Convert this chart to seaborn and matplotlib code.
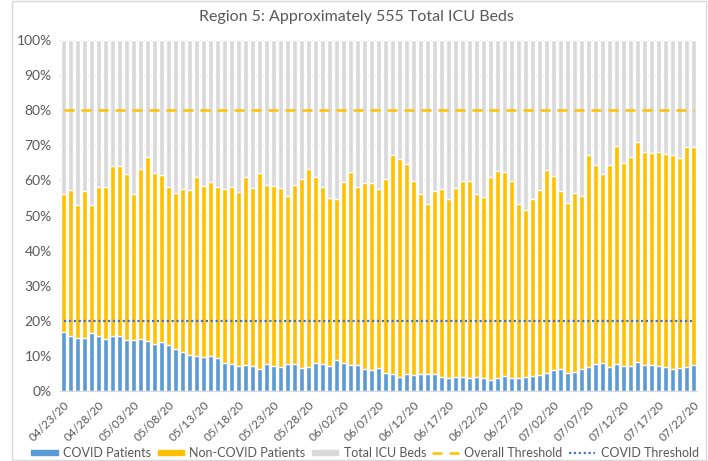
import numpy as np
import pandas as pd
import matplotlib
matplotlib.use("Agg")
import matplotlib.pyplot as plt
from matplotlib.patches import Patch, Rectangle
from matplotlib.lines import Line2D
import seaborn as sns

""" Data (percent of ~555 ICU beds) """
dates = pd.date_range("2020-04-23", "2020-07-22", freq="D").strftime("%m/%d/%y").tolist()

covid_pct = [16.9, 15.8, 15.2, 15.2, 16.5, 15.8, 14.8, 15.6, 15.6, 14.5,
             14.5, 14.8, 14.2, 13.5, 13.9, 13.1, 12.0, 11.2, 10.2, 10.1,
             9.6, 9.9, 9.4, 8.0, 7.7, 7.1, 7.5, 7.2, 6.2, 7.6,
             7.1, 6.8, 7.7, 7.8, 6.6, 6.8, 8.0, 7.6, 7.2, 8.9,
             8.1, 7.4, 7.4, 6.3, 6.1, 6.5, 5.1, 4.8, 4.1, 4.9,
             4.7, 4.9, 4.9, 4.9, 3.9, 3.8, 4.0, 4.0, 3.6, 4.0,
             3.8, 3.2, 3.8, 4.3, 3.6, 3.8, 4.0, 4.2, 4.7, 5.2,
             5.9, 6.3, 5.0, 5.5, 6.2, 6.8, 7.8, 8.0, 6.8, 7.8,
             7.2, 7.2, 8.2, 7.3, 7.4, 7.0, 6.8, 6.4, 6.6, 6.7,
             7.5]

occupied_pct = [56.1, 57.3, 52.9, 56.9, 53.1, 58.1, 58.1, 64.1, 64.1, 61.8,
                56.1, 63.2, 66.6, 62.2, 61.4, 58.2, 56.3, 57.5, 57.3, 60.9,
                58.3, 59.6, 58.2, 57.5, 58.1, 56.7, 60.9, 57.9, 62.2, 58.6,
                58.4, 57.9, 55.5, 58.6, 60.3, 63.2, 60.9, 58.1, 55.0, 54.7,
                59.5, 62.3, 58.2, 59.3, 59.3, 57.5, 60.5, 67.2, 66.0, 64.7,
                59.8, 56.1, 53.4, 57.0, 57.6, 54.7, 57.8, 59.9, 59.8, 56.1,
                55.2, 61.1, 62.8, 62.5, 59.8, 53.4, 51.6, 54.7, 57.3, 63.0,
                61.3, 57.0, 53.6, 56.3, 55.5, 67.2, 64.3, 61.9, 64.4, 69.9,
                64.9, 66.7, 70.9, 68.2, 67.8, 68.2, 67.6, 67.2, 66.5, 69.5,
                69.4]

overall_threshold = 80
covid_threshold = 20

df = pd.DataFrame({"date": dates, "covid": covid_pct, "occupied": occupied_pct})
df["total"] = 100
df["noncovid"] = df["occupied"] - df["covid"]

BLUE = "#5B9BD5"
GOLD = "#FFC000"
GREY = "#D9D9D9"
TEXT = "#595959"
DOTS = "#4472C4"
DASH = (0, (4, 2.8))
DOTTED = (0, (1, 1.2))

sns.set_style("white")
plt.rcParams["font.family"] = ["Lato", "DejaVu Sans"]

fig = plt.figure(figsize=(7.08, 4.61), dpi=100)
ax = fig.add_axes([60 / 708, 1 - 391 / 461, 637 / 708, 351 / 461])

# layered bars give the stacked look
sns.barplot(data=df, x="date", y="total", color=GREY, width=0.58,
            saturation=1, ax=ax, zorder=2)
sns.barplot(data=df, x="date", y="occupied", color=GOLD, width=0.58,
            saturation=1, ax=ax, zorder=3)
sns.barplot(data=df, x="date", y="covid", color=BLUE, width=0.58,
            saturation=1, ax=ax, zorder=4)

xs = np.arange(len(dates))
ax.plot(xs, [overall_threshold] * len(xs), color=GOLD, lw=1.8, ls=DASH, zorder=5)
ax.plot(xs, [covid_threshold] * len(xs), color=DOTS, lw=1.6, ls=DOTTED, zorder=5)

ax.set_xlim(-0.5, len(dates) - 0.5)
ax.set_ylim(0, 100)
ax.set_yticks(range(0, 101, 10))
ax.set_yticklabels([f"{v}%" for v in range(0, 101, 10)], color=TEXT, fontsize=10)
ax.yaxis.grid(True, color=GREY, lw=1, zorder=0)
ax.set_axisbelow(True)

ax.set_xticks(xs[::5])
ax.set_xticklabels(dates[::5], rotation=45, ha="right", rotation_mode="anchor",
                   color=TEXT, fontsize=8.5)
ax.tick_params(axis="y", length=0, pad=6)
ax.tick_params(axis="x", length=0, pad=6)
ax.set_xlabel("")
ax.set_ylabel("")
for side in ["top", "right", "left"]:
    ax.spines[side].set_visible(False)
ax.spines["bottom"].set_color(GREY)

fig.text(356 / 708, 1 - 17 / 461, "Region 5: Approximately 555 Total ICU Beds",
         ha="center", va="center", fontsize=11.5, color=TEXT)

handles = [
    Patch(color=BLUE, label="COVID Patients"),
    Patch(color=GOLD, label="Non-COVID Patients"),
    Patch(color=GREY, label="Total ICU Beds"),
    Line2D([], [], color=GOLD, lw=1.8, ls=DASH, label="Overall Threshold"),
    Line2D([], [], color=DOTS, lw=1.6, ls=DOTTED, label="COVID Threshold"),
]
leg = fig.legend(handles=handles, loc="center", bbox_to_anchor=(365 / 708, 1 - 453 / 461),
                 ncol=5, frameon=False, fontsize=9, handlelength=2.1,
                 handleheight=0.35, columnspacing=0.5, handletextpad=0.45,
                 borderpad=0.1, borderaxespad=0)
for t in leg.get_texts():
    t.set_color(TEXT)

fig.patches.append(Rectangle((12 / 708, 0.003), 694 / 708, 0.994,
                             transform=fig.transFigure, fill=False,
                             edgecolor=GREY, lw=1))

fig.savefig("out.png", dpi=100)
